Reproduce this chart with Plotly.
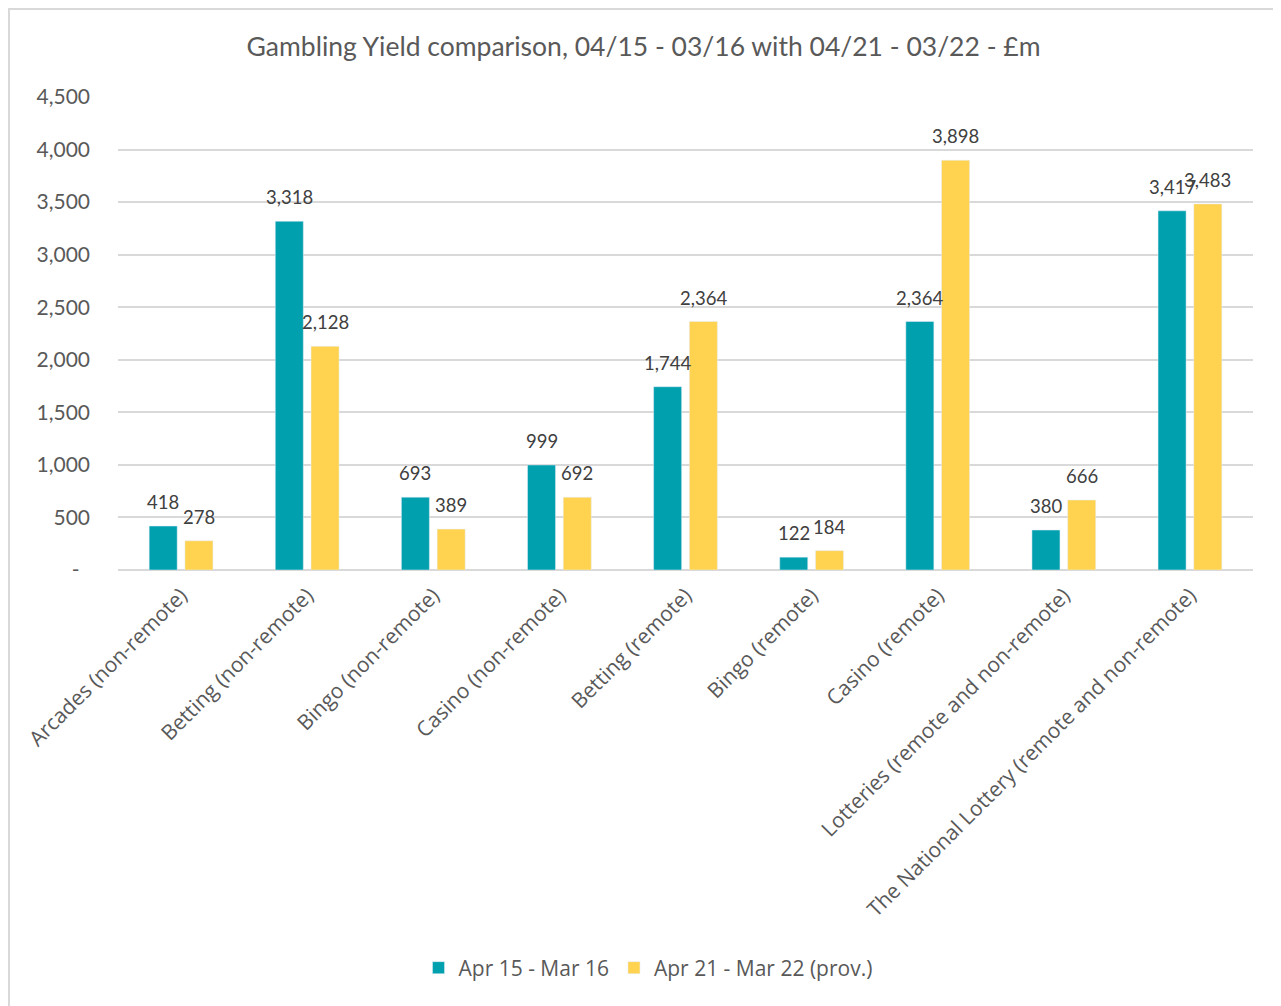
import plotly.graph_objects as go

categories = ["Arcades (non-remote)", "Betting (non-remote)", "Bingo (non-remote)",
              "Casino (non-remote)", "Betting (remote)", "Bingo (remote)",
              "Casino (remote)", "Lotteries (remote and non-remote)",
              "The National Lottery (remote and non-remote)"]
series1_name = "Apr 15 - Mar 16"
series1 = [418, 3318, 693, 999, 1744, 122, 2364, 380, 3417]
series2_name = "Apr 21 - Mar 22 (prov.)"
series2 = [278, 2128, 389, 692, 2364, 184, 3898, 666, 3483]
tick_vals = [0, 500, 1000, 1500, 2000, 2500, 3000, 3500, 4000, 4500]
tick_text = ["-\u2002", "500", "1,000", "1,500", "2,000", "2,500", "3,000", "3,500", "4,000", "4,500"]

FONT = "Lato, sans-serif"
FONT2 = "'Open Sans', sans-serif"
TEXTC = "#595959"
COLORS = ["#00A0AF", "#FFD34F"]

# page has an 8px body margin; figure coordinates = page coordinates - 8
W, H = 1273, 998
ml, mt = 110, 89
plot_right, plot_bottom = 1245, 562
mr, mb = W - plot_right, H - plot_bottom
pw, ph = plot_right - ml, plot_bottom - mt
BARGAP = 0.433

fig = go.Figure()
for name, vals, col in [(series1_name, series1, COLORS[0]), (series2_name, series2, COLORS[1])]:
    fig.add_trace(go.Bar(name=name, x=categories, y=vals, marker_color=col))

# data labels, placed above each bar of its group
slot = pw / len(categories) * (1 - BARGAP) / 2
annotations = []
for k, vals in enumerate([series1, series2]):
    shift = (k - 0.5) * slot
    for c, v in zip(categories, vals):
        annotations.append(dict(x=c, y=v, xref="x", yref="y", text=f"{v:,}", showarrow=False,
                                xshift=shift, yshift=24, yanchor="middle", xanchor="center",
                                font=dict(size=18.5, color="#404040", family=FONT)))

fig.update_layout(
    width=W, height=H,
    margin=dict(l=ml, r=mr, t=mt, b=mb),
    paper_bgcolor="white", plot_bgcolor="white",
    font=dict(family=FONT, color=TEXTC),
    title=dict(text="Gambling Yield comparison, 04/15 - 03/16 with 04/21 - 03/22 - £m",
               x=635.5 / W, xanchor="center", y=1 - 39 / H, yanchor="middle",
               font=dict(size=26.5, color=TEXTC, family=FONT)),
    barmode="group", bargap=BARGAP, bargroupgap=0.216,
    legend=dict(orientation="h", x=(648 - 8 - ml) / pw, xanchor="center",
                y=-(960 - plot_bottom) / ph,
                yanchor="middle", font=dict(size=21, color=TEXTC, family=FONT2),
                itemwidth=30, traceorder="normal"),
    yaxis=dict(range=[0, 4500], tickvals=tick_vals, ticktext=tick_text,
               showgrid=True, gridcolor="#D9D9D9", gridwidth=1.5,
               zeroline=True, zerolinecolor="#D9D9D9", zerolinewidth=1.5,
               tickfont=dict(size=21, color=TEXTC, family=FONT), ticks="", ticklabelstandoff=27),
    xaxis=dict(tickangle=-45, tickfont=dict(size=21, color=TEXTC, family=FONT2),
               showline=False, ticks="", ticklabelstandoff=8),
    annotations=annotations,
    shapes=[
        dict(type="line", xref="paper", yref="paper",
             x0=(1 - ml) / pw, x1=(1 - ml) / pw,
             y0=(plot_bottom - H) / ph, y1=(plot_bottom - 0) / ph,
             line=dict(color="#D9D9D9", width=2), layer="below"),
        dict(type="line", xref="paper", yref="paper",
             x0=(0 - ml) / pw, x1=(W - ml) / pw,
             y0=(plot_bottom - 1) / ph, y1=(plot_bottom - 1) / ph,
             line=dict(color="#D9D9D9", width=2), layer="below"),
    ],
)

fig.write_html("out.html")
